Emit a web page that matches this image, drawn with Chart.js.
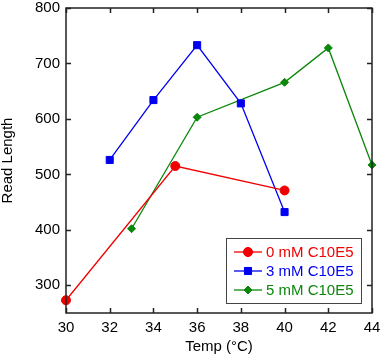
<!DOCTYPE html>
<html>
<head>
<meta charset="utf-8">
<script src="https://cdn.jsdelivr.net/npm/chart.js@4/dist/chart.umd.min.js"></script>
<style>
  html, body { margin: 0; padding: 0; background: #fff; }
  #wrap { width: 380px; height: 356px; }
</style>
</head>
<body>
<div id="wrap"><canvas id="canvas_plot1" width="380" height="356"></canvas></div>
<script>
// data
var temp_0mM = [30, 35, 40]
var read_0mM = [273, 515, 471]

var temp_3mM = [32, 34, 36, 38, 40]
var read_3mM = [526, 634, 733, 628, 432]

var temp_5mM = [33, 36, 40, 42, 44]
var read_5mM = [402, 603, 666, 728, 517]

var series_labels = ['0 mM C10E5', '3 mM C10E5', '5 mM C10E5']
var x_ticks = [30, 32, 34, 36, 38, 40, 42, 44]
var y_ticks = [300, 400, 500, 600, 700, 800]

var RED = '#f00000'
var BLUE = '#0000f0'
var GREEN = '#0b870b'
var FONT = '"Liberation Sans", Arial, sans-serif'

function toPoints(xs, ys) {
    var pts = []
    for (var i = 0; i < xs.length; i++) {
        pts.push({x: xs[i], y: ys[i]})
    }
    return pts
}

// inward ticks on all four sides + box + legend
var framePlugin = {
    id: 'frame',
    afterDraw: function (chart) {
        var ctx = chart.ctx
        var a = chart.chartArea
        var xs = chart.scales.x
        var ys = chart.scales.y
        var len = 5
        ctx.save()
        ctx.strokeStyle = '#222'
        ctx.lineWidth = 1.5
        ctx.strokeRect(a.left, a.top, a.right - a.left, a.bottom - a.top)
        ctx.beginPath()
        x_ticks.forEach(function (v) {
            var px = Math.round(xs.getPixelForValue(v)) + 0.5
            ctx.moveTo(px, a.bottom); ctx.lineTo(px, a.bottom - len)
            ctx.moveTo(px, a.top); ctx.lineTo(px, a.top + len)
        })
        y_ticks.forEach(function (v) {
            var py = Math.round(ys.getPixelForValue(v)) + 0.5
            ctx.moveTo(a.left, py); ctx.lineTo(a.left + len, py)
            ctx.moveTo(a.right, py); ctx.lineTo(a.right - len, py)
        })
        ctx.stroke()

        // legend box
        var bx = 226, by = 238, bw = 135, bh = 65
        ctx.fillStyle = '#fff'
        ctx.fillRect(bx, by, bw, bh)
        ctx.strokeStyle = '#444'
        ctx.lineWidth = 1
        ctx.strokeRect(bx + 0.5, by + 0.5, bw, bh)
        ctx.font = '15px ' + FONT
        ctx.textBaseline = 'middle'
        chart.data.datasets.forEach(function (ds, i) {
            var cy = by + 14 + i * 19
            ctx.strokeStyle = ds.borderColor
            ctx.fillStyle = ds.borderColor
            ctx.lineWidth = 1.3
            ctx.beginPath()
            ctx.moveTo(bx + 8, cy); ctx.lineTo(bx + 36, cy)
            ctx.stroke()
            ctx.lineWidth = 1
            Chart.helpers.drawPoint(ctx, {pointStyle: ds.pointStyle, radius: ds.pointRadius, borderWidth: 1}, bx + 22, cy)
            ctx.fill()
            ctx.fillText(series_labels[i], bx + 40, cy + 1)
        })
        ctx.restore()
    }
}

var data_temp = {
    datasets: [
        {
            label: series_labels[0],
            data: toPoints(temp_0mM, read_0mM),
            borderColor: RED,
            backgroundColor: RED,
            pointStyle: 'circle',
            pointRadius: 4.5,
            borderWidth: 1.3,
            pointBorderWidth: 1
        },
        {
            label: series_labels[1],
            data: toPoints(temp_3mM, read_3mM),
            borderColor: BLUE,
            backgroundColor: BLUE,
            pointStyle: 'rect',
            pointRadius: 5,
            borderWidth: 1.3,
            pointBorderWidth: 1
        },
        {
            label: series_labels[2],
            data: toPoints(temp_5mM, read_5mM),
            borderColor: GREEN,
            backgroundColor: GREEN,
            pointStyle: 'rectRot',
            pointRadius: 4,
            borderWidth: 1.3,
            pointBorderWidth: 1
        }
    ]
}

var config = {
    type: 'line',
    data: data_temp,
    options: {
        responsive: false,
        animation: false,
        clip: false,
        layout: {padding: {top: 8, right: 8, left: 0, bottom: 0}},
        plugins: {
            legend: {display: false},
            tooltip: {enabled: false}
        },
        scales: {
            x: {
                type: 'linear',
                min: 30,
                max: 44,
                afterBuildTicks: function (s) { s.ticks = x_ticks.map(function (v) { return {value: v} }) },
                afterFit: function (s) { s.height = 43; s.paddingLeft = 0; s.paddingRight = 0 },
                grid: {display: false, drawTicks: false},
                border: {display: false},
                ticks: {color: '#000', padding: 6, font: {family: FONT, size: 15}},
                title: {display: true, text: 'Temp (°C)', color: '#000', padding: {top: 0, bottom: 2}, font: {family: FONT, size: 15, lineHeight: 1}}
            },
            y: {
                min: 250,
                max: 800,
                afterBuildTicks: function (s) { s.ticks = y_ticks.map(function (v) { return {value: v} }) },
                afterFit: function (s) { s.width = 66; s.paddingTop = 0; s.paddingBottom = 0 },
                grid: {display: false, drawTicks: false},
                border: {display: false},
                ticks: {color: '#000', padding: 6, font: {family: FONT, size: 15}},
                title: {display: true, text: 'Read Length', color: '#000', padding: {top: 0, bottom: 0}, font: {family: FONT, size: 15, lineHeight: 1}}
            }
        }
    },
    plugins: [framePlugin]
}

var myChart = new Chart(document.getElementById('canvas_plot1'), config)
</script>
</body>
</html>
